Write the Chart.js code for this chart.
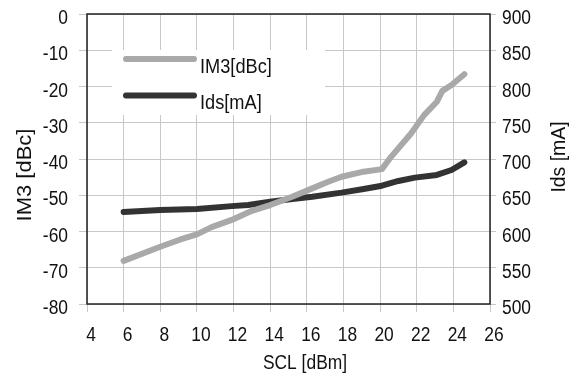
<!DOCTYPE html>
<html><head><meta charset="utf-8">
<script src="https://cdn.jsdelivr.net/npm/chart.js@4.4.1/dist/chart.umd.min.js"></script>
<style>html,body{margin:0;padding:0;background:#fff}#wrap{width:584px;height:379px}</style>
</head><body><div id="wrap"><canvas id="c" width="584" height="379"></canvas></div>
<script>
// Data
const im3X   = [6, 8, 9.1, 10, 10.8, 11.9, 13, 14, 15.2, 16.3, 17.2, 17.9, 19.1, 20.1, 20.6, 21.7, 22.4, 23.1, 23.4, 23.9, 24.6];
const im3Y   = [-68.1, -64.2, -62.2, -60.8, -58.8, -56.8, -54.3, -52.7, -50.4, -48.1, -46.2, -44.9, -43.5, -42.8, -39.4, -32.9, -27.9, -24.2, -21.2, -19.6, -16.6];
const idsX   = [6, 8, 10, 11.9, 12.8, 14, 15.2, 16.3, 17.9, 19.1, 20.1, 21, 21.9, 23.1, 23.9, 24.6];
const idsY   = [627, 629.5, 631, 635, 636.6, 641, 644.8, 648, 653.6, 658.6, 663.2, 669.7, 674.3, 678, 684.8, 695.4];
const seriesNames = ['IM3[dBc]', 'Ids[mA]'];
const xTitle = 'SCL [dBm]';
const yTitle = 'IM3 [dBc]';
const y1Title = 'Ids [mA]';

const FONT = "'Liberation Sans', Arial, sans-serif";
const FS = 20;          // font size
const SX = 0.87;        // horizontal condensing (narrow face)
const GRAY = '#a9a9aa';
const DARK = '#333333';
const GRID = '#c8c8c8';
const TXT = '#111111';

const toPts = (xs, ys) => xs.map((x, i) => ({x: x, y: ys[i]}));

function narrowText(ctx, text, x, y, align, rot, fs, sx) {
  ctx.save();
  ctx.translate(x, y);
  if (rot) ctx.rotate(rot);
  ctx.scale(sx || SX, 1);
  ctx.font = (fs || FS) + 'px ' + FONT;
  ctx.fillStyle = TXT;
  ctx.textAlign = align;
  ctx.textBaseline = 'alphabetic';
  ctx.fillText(text, 0, 0);
  ctx.restore();
}

const zeroPad = (s) => { s.paddingTop = 0; s.paddingBottom = 0; s.paddingLeft = 0; s.paddingRight = 0; };

const decor = {
  id: 'decor',
  beforeDatasetsDraw(chart) {
    const ctx = chart.ctx, a = chart.chartArea;
    ctx.save();
    ctx.fillStyle = '#fff';
    ctx.fillRect(a.left + 25, a.top + 36, 213, 65);
    const items = [[GRAY, 59, 73], [DARK, 95.5, 109]];
    items.forEach((it, i) => {
      ctx.strokeStyle = it[0];
      ctx.lineWidth = 6;
      ctx.lineCap = 'round';
      ctx.beginPath();
      ctx.moveTo(a.left + 39, it[1]);
      ctx.lineTo(a.left + 107, it[1]);
      ctx.stroke();
      narrowText(ctx, seriesNames[i], a.left + 113, it[2], 'left', 0, 20, 0.91);
    });
    ctx.restore();
  },
  afterDraw(chart) {
    const ctx = chart.ctx, a = chart.chartArea;
    const sx = chart.scales.x, sy = chart.scales.y, sy1 = chart.scales.y1;
    ctx.save();
    ctx.strokeStyle = '#222';
    ctx.lineWidth = 1.5;
    ctx.strokeRect(a.left, a.top, a.right - a.left, a.bottom - a.top);
    ctx.restore();
    // tick labels, positioned from the library's scales
    sx.ticks.forEach(t => narrowText(ctx, String(t.value), sx.getPixelForValue(t.value) + 4, a.bottom + 37, 'center'));
    sy.ticks.forEach(t => narrowText(ctx, String(t.value), a.left - 19, sy.getPixelForValue(t.value) + 10, 'right'));
    sy1.ticks.forEach(t => narrowText(ctx, String(t.value), a.right + 12, sy1.getPixelForValue(t.value) + 10, 'left'));
    // axis titles
    narrowText(ctx, xTitle, 305, 369, 'center');
    narrowText(ctx, yTitle, 31, 175, 'center', -Math.PI / 2, 20, 1.1);
    narrowText(ctx, y1Title, 565, 157, 'center', -Math.PI / 2, 20, 0.97);
  }
};

new Chart(document.getElementById('c'), {
  type: 'line',
  data: {
    datasets: [
      {label: seriesNames[0], data: toPts(im3X, im3Y), yAxisID: 'y', borderColor: GRAY, borderWidth: 6, pointRadius: 0, borderCapStyle: 'round', borderJoinStyle: 'round', tension: 0},
      {label: seriesNames[1], data: toPts(idsX, idsY), yAxisID: 'y1', borderColor: DARK, borderWidth: 6, pointRadius: 0, borderCapStyle: 'round', borderJoinStyle: 'round', tension: 0}
    ]
  },
  options: {
    responsive: false,
    animation: false,
    events: [],
    layout: {padding: {top: 14, left: 0, right: 0, bottom: 0}},
    plugins: {legend: {display: false}, tooltip: {enabled: false}},
    scales: {
      x: {
        type: 'linear', min: 4, max: 26,
        ticks: {stepSize: 2, display: false},
        grid: {color: GRID, lineWidth: 1, tickLength: 8, tickColor: GRID},
        border: {display: false},
        afterFit(s) { s.height = 75; zeroPad(s); }
      },
      y: {
        position: 'left', min: -80, max: 0,
        ticks: {stepSize: 10, display: false},
        grid: {color: GRID, lineWidth: 1, tickLength: 8, tickColor: GRID},
        border: {display: false},
        afterFit(s) { s.width = 87; zeroPad(s); }
      },
      y1: {
        position: 'right', min: 500, max: 900,
        ticks: {stepSize: 50, display: false},
        grid: {drawOnChartArea: false, tickLength: 6, tickColor: GRID},
        border: {display: false},
        afterFit(s) { s.width = 94; zeroPad(s); }
      }
    }
  },
  plugins: [decor]
});
</script></body></html>
